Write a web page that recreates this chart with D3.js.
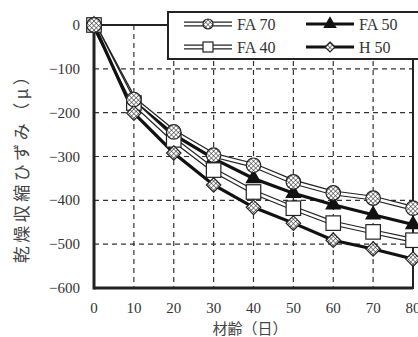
<!DOCTYPE html>
<html>
<head>
<meta charset="utf-8">
<script src="https://cdn.jsdelivr.net/npm/d3@7"></script>
<style>
  body { margin: 0; background: #fff; }
  text { font-family: "Liberation Serif", "DejaVu Serif", serif; fill: #333; }
  .jp { font-family: "Noto Sans CJK JP", sans-serif; fill: #444; }
</style>
</head>
<body>
<div id="chart"></div>
<script>
// 乾燥収縮ひずみ vs 材齢
var w = 418;
var h = 337;
var margin = {top: 25, right: 5, bottom: 49, left: 94};

var days = [0, 10, 20, 30, 40, 50, 60, 70, 80];
var fa70 = [0, -170, -244, -297, -320, -358, -383, -395, -418];
var fa50 = [0, -175, -250, -305, -350, -384, -410, -433, -455];
var fa40 = [0, -178, -262, -331, -381, -418, -452, -472, -491];
var h50  = [0, -201, -292, -365, -416, -452, -491, -511, -534];

var xTicks = [0, 10, 20, 30, 40, 50, 60, 70, 80];
var yTicks = [0, -100, -200, -300, -400, -500, -600];

var svg = d3.select("#chart").append("svg")
    .attr("width", w)
    .attr("height", h);

// hatch pattern for circle / diamond markers
var defs = svg.append("defs");
var pat = defs.append("pattern")
    .attr("id", "hatch")
    .attr("patternUnits", "userSpaceOnUse")
    .attr("width", 3.2).attr("height", 3.2)
    .attr("patternTransform", "rotate(45)");
pat.append("rect").attr("width", 3.2).attr("height", 3.2).attr("fill", "#fff");
pat.append("line").attr("x1", 0).attr("y1", 0).attr("x2", 0).attr("y2", 3.2)
    .attr("stroke", "#222").attr("stroke-width", 1);
pat.append("line").attr("x1", 0).attr("y1", 0).attr("x2", 3.2).attr("y2", 0)
    .attr("stroke", "#222").attr("stroke-width", 1);

var x = d3.scaleLinear().domain([0, 80]).range([margin.left, w - margin.right]);
var y = d3.scaleLinear().domain([-600, 0]).range([h - margin.bottom, margin.top]);

var g = svg.append("g");

// dashed grid
g.selectAll("line.hg").data(yTicks.filter(function(d) { return d < 0 && d > -600; }))
  .enter().append("line")
    .attr("x1", x(0)).attr("x2", x(80))
    .attr("y1", function(d) { return y(d); }).attr("y2", function(d) { return y(d); })
    .attr("stroke", "#333").attr("stroke-width", 1.2).attr("stroke-dasharray", "5,4");
g.selectAll("line.vg").data(xTicks.filter(function(d) { return d > 0 && d < 80; }))
  .enter().append("line")
    .attr("x1", function(d) { return x(d); }).attr("x2", function(d) { return x(d); })
    .attr("y1", y(0)).attr("y2", y(-600))
    .attr("stroke", "#333").attr("stroke-width", 1.2).attr("stroke-dasharray", "5,4");

// frame
g.append("rect")
    .attr("x", x(0)).attr("y", y(0))
    .attr("width", x(80) - x(0)).attr("height", y(-600) - y(0))
    .attr("fill", "none").attr("stroke", "#222").attr("stroke-width", 2);
g.append("line").attr("x1", x(0)).attr("x2", x(0)).attr("y1", y(0)).attr("y2", y(-600) + 1.5)
    .attr("stroke", "#222").attr("stroke-width", 3);
g.append("line").attr("x1", x(0)).attr("x2", x(80)).attr("y1", y(-600)).attr("y2", y(-600))
    .attr("stroke", "#222").attr("stroke-width", 3);

// tick labels
svg.selectAll("text.yt").data(yTicks).enter().append("text")
    .attr("x", x(0) - 14).attr("y", function(d) { return y(d) + 5; })
    .attr("text-anchor", "end").attr("font-size", 15)
    .text(function(d) { return d < 0 ? "\u2212" + Math.abs(d) : d; });
svg.selectAll("text.xt").data(xTicks).enter().append("text")
    .attr("x", function(d) { return x(d); }).attr("y", h - margin.bottom + 25)
    .attr("text-anchor", "middle").attr("font-size", 15)
    .text(function(d) { return d; });

svg.append("text").attr("class", "jp")
    .attr("x", 250).attr("y", 334)
    .attr("text-anchor", "middle").attr("font-size", 15)
    .text("材齢（日）");
svg.append("text").attr("class", "jp")
    .attr("transform", "translate(28,164) rotate(-90)")
    .attr("text-anchor", "middle").attr("font-size", 17)
    .attr("letter-spacing", 3.5)
    .text("乾燥収縮ひずみ（μ）");

var series = [
  {name: "FA 70", vals: fa70, dbl: true,  marker: "circle"},
  {name: "FA 50", vals: fa50, dbl: false, marker: "triangle"},
  {name: "FA 40", vals: fa40, dbl: true,  marker: "square"},
  {name: "H 50",  vals: h50,  dbl: false, marker: "diamond"}
];

var line = d3.line()
    .x(function(d) { return x(d[0]); })
    .y(function(d) { return y(d[1]); });

function drawPath(sel, s, d) {
  if (s.dbl) {
    sel.append("path").attr("d", d).attr("fill", "none")
        .attr("stroke", "#222").attr("stroke-width", 5);
    sel.append("path").attr("d", d).attr("fill", "none")
        .attr("stroke", "#fff").attr("stroke-width", 2.6);
  } else {
    sel.append("path").attr("d", d).attr("fill", "none")
        .attr("stroke", "#111").attr("stroke-width", 3.2);
  }
}

function drawMarker(sel, type, cx, cy, sz) {
  var m = sel.append("g").attr("transform", "translate(" + [cx, cy] + ")");
  if (type === "circle") {
    m.append("circle").attr("r", sz / 2).attr("fill", "url(#hatch)")
        .attr("stroke", "#222").attr("stroke-width", 1.2);
  } else if (type === "square") {
    m.append("rect").attr("x", -sz / 2).attr("y", -sz / 2)
        .attr("width", sz).attr("height", sz)
        .attr("fill", "#fff").attr("stroke", "#222").attr("stroke-width", 1.2);
  } else if (type === "triangle") {
    m.append("path").attr("d", d3.symbol(d3.symbolTriangle, sz * sz * 0.55)())
        .attr("fill", "#111");
  } else {
    var r = sz / 2;
    m.append("path").attr("d", "M0," + (-r) + "L" + r + ",0L0," + r + "L" + (-r) + ",0Z")
        .attr("fill", "url(#hatch)").attr("stroke", "#222").attr("stroke-width", 1.2);
  }
}

var plot = svg.append("g");
series.forEach(function(s) {
  var pts = days.map(function(d, i) { return [d, s.vals[i]]; });
  drawPath(plot, s, line(pts));
});
// markers on top: triangles, squares, diamonds, circles
[1, 2, 3, 0].forEach(function(k) {
  var s = series[k];
  days.forEach(function(d, i) {
    drawMarker(plot, s.marker, x(d), y(s.vals[i]), 14.5);
  });
});

// legend
var lg = svg.append("g");
lg.append("rect").attr("x", 168).attr("y", 12).attr("width", 270).attr("height", 47)
    .attr("fill", "#fff").attr("stroke", "#222").attr("stroke-width", 2);
var legPos = [
  {s: series[0], lx: 184, ly: 24},
  {s: series[1], lx: 306, ly: 24},
  {s: series[2], lx: 184, ly: 47},
  {s: series[3], lx: 306, ly: 47}
];
legPos.forEach(function(p) {
  var gg = lg.append("g");
  drawPath(gg, p.s, "M" + p.lx + "," + p.ly + "H" + (p.lx + 48));
  drawMarker(gg, p.s.marker, p.lx + 24, p.ly, p.s.marker === "triangle" ? 12 : 10);
  gg.append("text").attr("x", p.lx + 53).attr("y", p.ly + 6)
      .attr("font-size", 16).text(p.s.name);
});
</script>
</body>
</html>
